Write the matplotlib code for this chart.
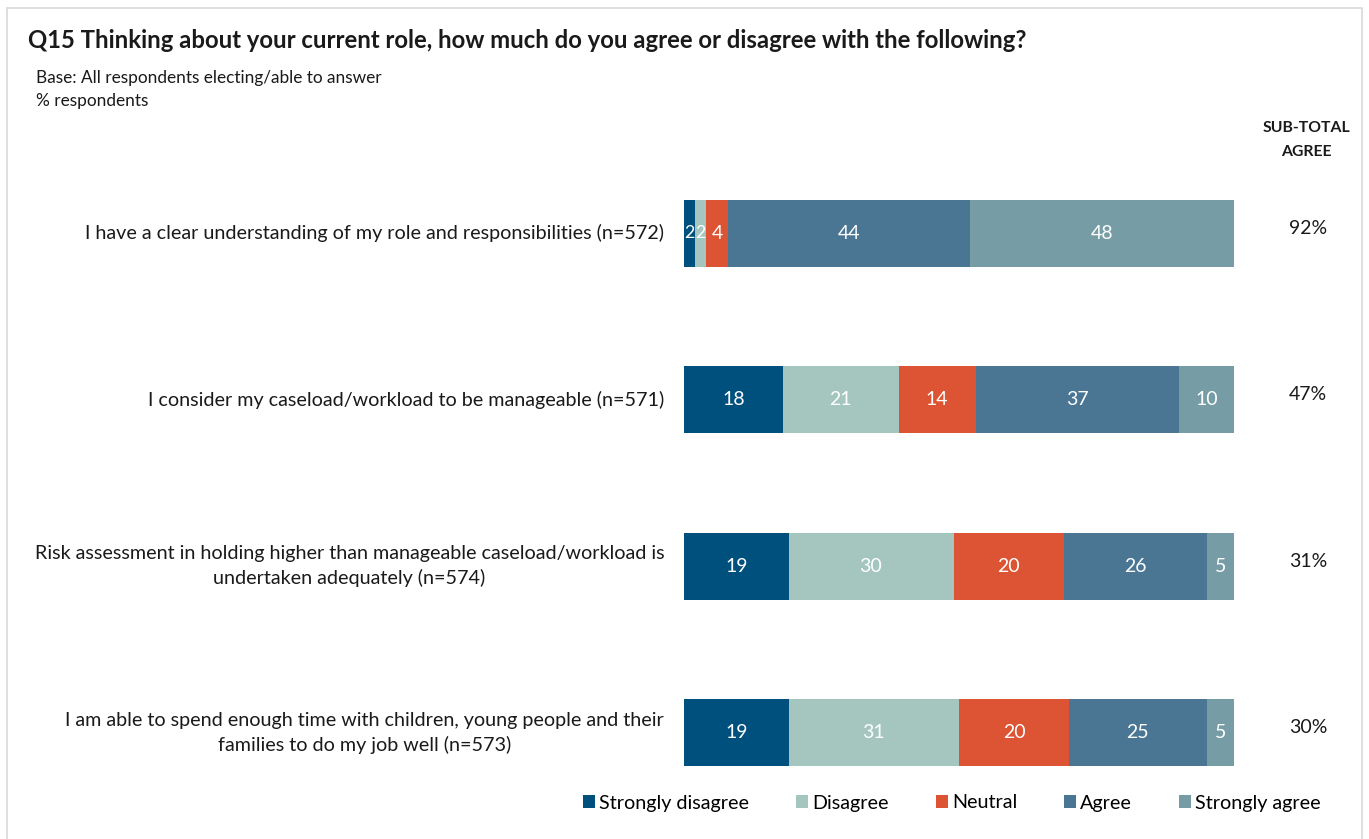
import numpy as np
import matplotlib.pyplot as plt
from matplotlib.patches import Rectangle

plt.rcParams['font.family'] = ['Lato', 'DejaVu Sans']

statements = [
    "I have a clear understanding of my role and responsibilities (n=572)",
    "I consider my caseload/workload to be manageable (n=571)",
    "Risk assessment in holding higher than manageable caseload/workload is\nundertaken adequately (n=574)",
    "I am able to spend enough time with children, young people and their\nfamilies to do my job well (n=573)",
]
categories = ["Strongly disagree", "Disagree", "Neutral", "Agree", "Strongly agree"]
strongly_disagree = [2, 18, 19, 19]
disagree = [2, 21, 30, 31]
neutral = [4, 14, 20, 20]
agree = [44, 37, 26, 25]
strongly_agree = [48, 10, 5, 5]
subtotal_agree = ["92%", "47%", "31%", "30%"]

colors = ["#00507d", "#a5c6be", "#dc5433", "#4a7694", "#769da6"]

fig = plt.figure(figsize=(13.69, 8.39), dpi=100)
W, H = 1369, 839
ax = fig.add_axes([684 / W, 1 - 816 / H, 550 / W, 666 / H])

series = [strongly_disagree, disagree, neutral, agree, strongly_agree]
y = np.arange(len(statements))
left = np.zeros(len(statements))
for vals, col, name in zip(series, colors, categories):
    vals = np.array(vals, dtype=float)
    ax.barh(y, vals, left=left, height=0.4, color=col, label=name)
    for yi, (l, v) in enumerate(zip(left, vals)):
        ax.text(l + v / 2, yi, f"{int(v)}", ha='center', va='center',
                color='white', fontsize=14 if v > 3 else 13)
    left += vals

ax.set_xlim(0, 100)
ax.set_ylim(3.5, -0.5)
ax.axis('off')

for yi, s in enumerate(statements):
    ax.text(-3.6, yi, s, ha='right', va='center', multialignment='center',
            fontsize=14.2, color='#1a1a1a', linespacing=1.45)
    ax.text(113.5, yi - 0.03, subtotal_agree[yi], ha='center', va='center',
            fontsize=14, color='#1a1a1a')

fig.text(1306 / W, 1 - 140 / H, "SUB-TOTAL\nAGREE", ha='center', va='center',
         fontsize=11.3, fontweight='bold', color='#1a1a1a', linespacing=1.9)

fig.text(28 / W, 1 - 40 / H,
         "Q15 Thinking about your current role, how much do you agree or disagree with the following?",
         ha='left', va='center', fontsize=17.2, fontweight='bold', color='#1a1a1a')
fig.text(36 / W, 1 - 78 / H, "Base: All respondents electing/able to answer",
         ha='left', va='center', fontsize=12.4, color='#1a1a1a')
fig.text(36 / W, 1 - 101 / H, "% respondents",
         ha='left', va='center', fontsize=12.4, color='#1a1a1a')

fig.patches.append(Rectangle((7 / W, -0.01), 1355 / W, 1 - 8 / H + 0.01,
                             transform=fig.transFigure, fill=False,
                             edgecolor='#d9d9d9', linewidth=1.2))

leg = fig.legend(loc='center', bbox_to_anchor=(952 / W, 1 - 803 / H), ncol=5,
                 frameon=False, fontsize=14.2, handlelength=0.6, handleheight=0.6,
                 handletextpad=0.2, columnspacing=2.4)

fig.savefig("out.png", dpi=100)
